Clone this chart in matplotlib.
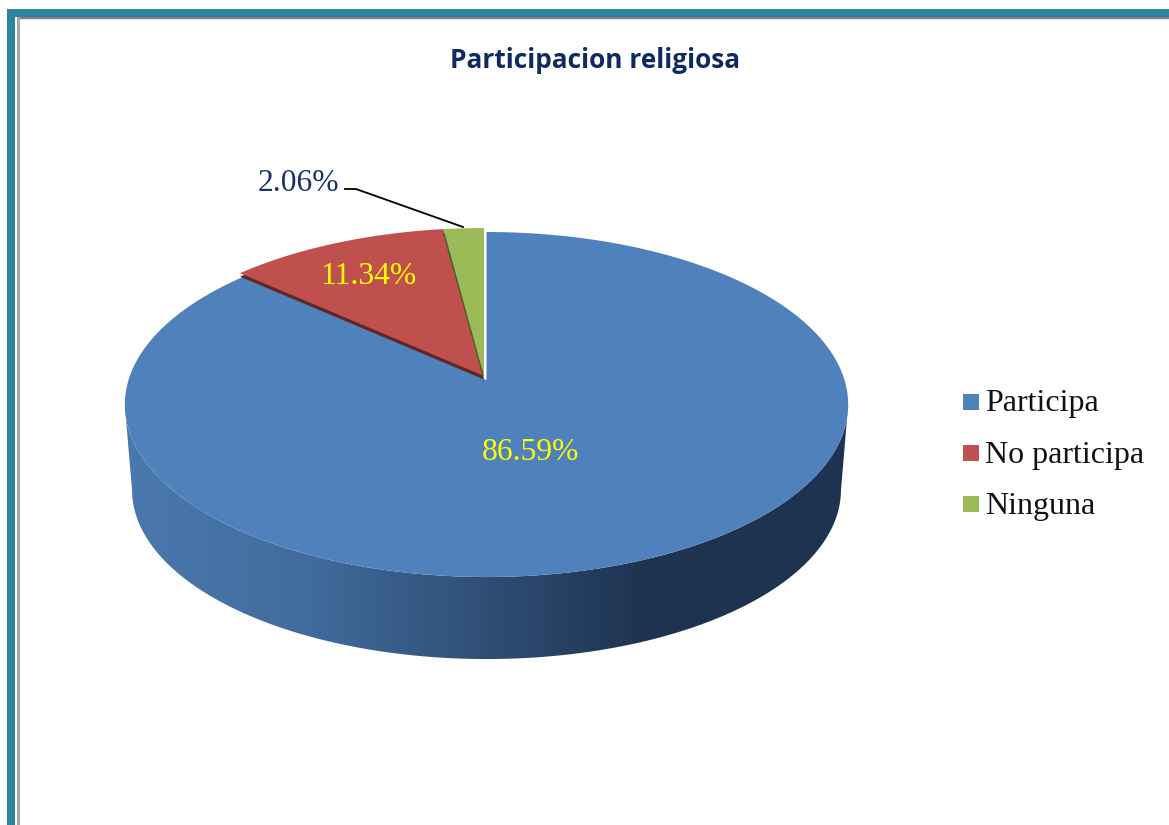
import numpy as np
import matplotlib
matplotlib.use("Agg")
import matplotlib.pyplot as plt
from matplotlib.patches import Polygon, Rectangle, Patch
from matplotlib.colors import LinearSegmentedColormap

# ---- data ----
title = "Participacion religiosa"
categories = ["Participa", "No participa", "Ninguna"]
values = [86.59, 11.34, 2.06]
colors = ["#4F81BD", "#C0504D", "#9BBB59"]
rim_colors = [None, "#5E2725", "#4E5F2C"]

W, H = 1169, 825
fig = plt.figure(figsize=(W / 100, H / 100), dpi=100, facecolor="white")
ax = fig.add_axes([0, 0, 1, 1])
ax.set_axis_off()

SERIF = "Liberation Serif"

# perspective projection of a unit disc to screen pixels
CX, CY, A, B, K = 486.5, 380.0, 358.0, 169.0, 0.142


def project(theta, r=1.0, scale=1.0, dx=0.0, dy=0.0):
    """theta in radians clockwise from 12 o'clock."""
    x = r * np.sin(theta)
    y = r * np.cos(theta)
    w = 1 + K * y
    return np.column_stack([CX + dx + scale * A * x / w,
                            CY + dy - scale * B * y / w])


def wedge(t0, t1, dx=0.0, dy=0.0):
    t = np.linspace(t0, t1, 240)
    return np.vstack([project(np.array([0.0]), r=0.0, dx=dx, dy=dy),
                      project(t, dx=dx, dy=dy)])


# side wall: between lower rim of the top face and the floor ellipse
tt = np.linspace(np.pi / 2 + 0.146, 3 * np.pi / 2 - 0.146, 400)
top_rim = project(tt)
floor = project(tt, scale=0.98, dy=86.0)
side_poly = Polygon(np.vstack([top_rim, floor[::-1]]), closed=True,
                    facecolor="none", edgecolor="none")
ax.add_patch(side_poly)
cmap = LinearSegmentedColormap.from_list("side", [
    (0.00, "#4A79AE"), (0.25, "#416C9D"), (0.50, "#2F4E75"),
    (0.72, "#1E3350"), (1.00, "#1D3350")])
im = ax.imshow(np.linspace(0, 1, 512)[None, :], extent=(125, 849, 700, 380),
               cmap=cmap, aspect="auto", interpolation="bilinear", zorder=1)
im.set_clip_path(side_poly)

# slices
fracs = np.array(values) / np.sum(values)
edges = np.concatenate([[0.0], np.cumsum(fracs)]) * 2 * np.pi
ax.add_patch(Polygon(wedge(edges[0], edges[1]), closed=True, facecolor=colors[0],
                     edgecolor="none", zorder=2))
for i, (rdx, rdy) in zip([1, 2], [(-2.5, -0.5), (-3.0, 0.0)]):
    ax.add_patch(Polygon(wedge(edges[i], edges[i + 1], dx=rdx, dy=rdy),
                         closed=True, facecolor=rim_colors[i], edgecolor="none",
                         zorder=3 + i))
    ax.add_patch(Polygon(wedge(edges[i], edges[i + 1], dx=-2.5, dy=-4.0),
                         closed=True, facecolor=colors[i], edgecolor="none",
                         zorder=3.5 + i))

# data labels
label_colors = ["#FFFF00", "#FFFF00", "#17306B"]
label_pos = [(530.5, 452.5), (368, 276.5), (298.5, 183.5)]
for v, c, (lx, ly) in zip(values, label_colors, label_pos):
    ax.text(lx, ly, f"{v:.2f}%", color=c, family=SERIF, fontsize=22.7,
            ha="center", va="center", zorder=8)

# leader line
ax.plot([345, 356, 463], [189, 189, 227], color="black", lw=1.3, zorder=8)

# title
ax.text(595, 61, title, color="#0F2A63", family="Open Sans", weight="bold",
        fontsize=18.9, ha="center", va="center")

# legend
handles = [Patch(facecolor=c, edgecolor="none") for c in colors]
leg = ax.legend(handles, categories, loc="center left",
                bbox_to_anchor=(963 / W, 1 - 455 / H), bbox_transform=fig.transFigure,
                frameon=False, handlelength=0.5, handleheight=0.4,
                handletextpad=0.2, labelspacing=0.69, borderpad=0, borderaxespad=0,
                prop={"family": SERIF, "size": 23})
for t in leg.get_texts():
    t.set_color("#111111")
for p in leg.get_patches():
    p.set_y(p.get_y() - 1.6)

# frame
for (x, y, w, h, c) in [
    (7, 9, W - 7, 7.5, "#2E849F"),
    (7, 9, 8, H - 9, "#2E849F"),
    (17, 16.5, W - 17, 2, "#808080"),
    (17, 18.5, W - 17, 1.5, "#E2E2E2"),
    (17, 16.5, 2.5, H - 16.5, "#A6A6A6"),
]:
    ax.add_patch(Rectangle((x, y), w, h, facecolor=c, edgecolor="none", zorder=9))

ax.set_xlim(0, W)
ax.set_ylim(H, 0)
fig.savefig("out.png", dpi=100)
